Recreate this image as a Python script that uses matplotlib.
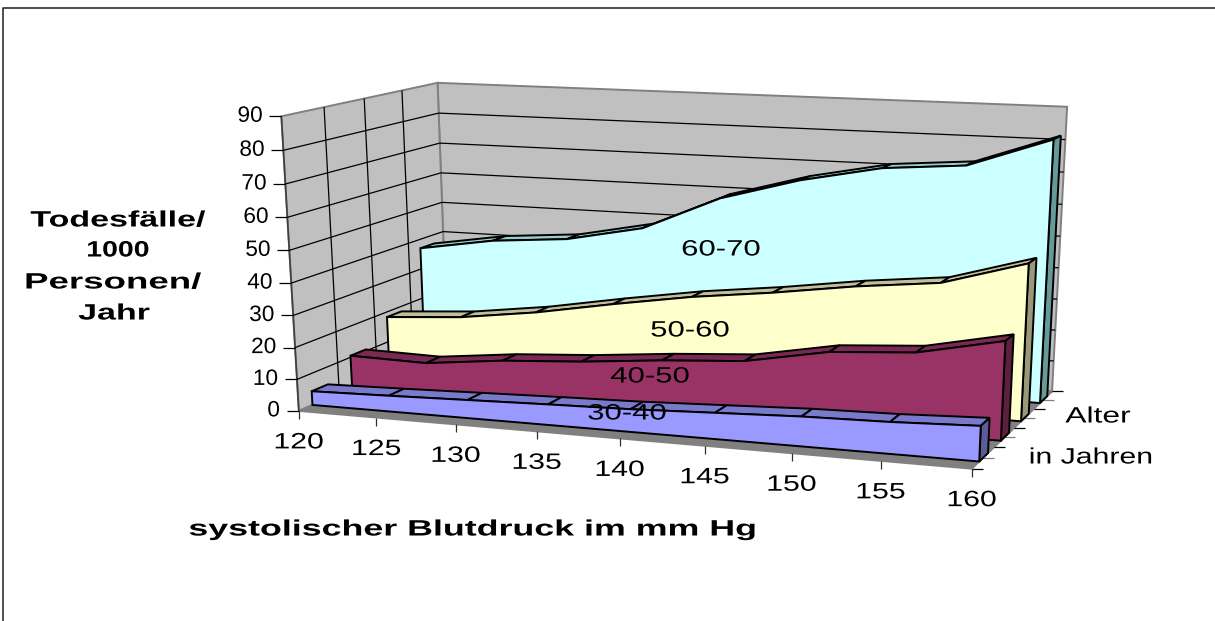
import numpy as np
import matplotlib
matplotlib.use('Agg')
import matplotlib.pyplot as plt
from matplotlib.patheffects import AbstractPathEffect
from matplotlib.transforms import Affine2D

pressure = [120, 125, 130, 135, 140, 145, 150, 155, 160]
z_ticks = [0, 10, 20, 30, 40, 50, 60, 70, 80, 90]

age_groups = ['30-40', '40-50', '50-60', '60-70']
deaths_30 = [4.4, 5, 5.7, 6.4, 7, 8, 9, 9.5, 10.5]
deaths_40 = [10.5, 10, 12.7, 14.3, 16.6, 18.3, 23, 24.7, 30]
deaths_50 = [18.3, 20, 23.3, 27.7, 31.7, 34.7, 38.3, 41, 48.5]
deaths_60 = [37, 41, 43, 48, 59, 66, 71, 73, 82]
series = [deaths_30, deaths_40, deaths_50, deaths_60]

face_colors = ['#9999FF', '#993366', '#FFFFCC', '#CCFFFF']
top_colors = ['#7A7ACC', '#7A2952', '#BFBF99', '#99CCCC']
side_colors = ['#5C5C99', '#5C1F3D', '#99997A', '#669999']
label_pos = [(627, 414), (650, 377), (690, 331), (721, 250)]

# where the corners of the chart box sit on the page (x, depth, z) -> pixel
corners = [
  ((0, 0, 0), (299, 409)), ((1, 0, 0), (972, 470)),
  ((0, 1, 0), (447, 348)), ((1, 1, 0), (1052, 390)),
  ((0, 0, 1), (281, 117)), ((0, 1, 1), (438, 82)),
  ((1, 1, 1), (1067, 107)),
]

def fitCamera(pairs):
  rows = []
  for (x, d, z), (u, v) in pairs:
    p = [x, d, z, 1]
    rows.append(p + [0, 0, 0, 0] + [-u * c for c in p])
    rows.append([0, 0, 0, 0] + p + [-v * c for c in p])
  return np.linalg.svd(np.array(rows, float))[2][-1].reshape(3, 4)

camera = fitCamera(corners)

def proj(x, d, z):
  """pressure, depth 0..1, deaths -> page pixel"""
  p = camera @ [(x - 120) / 40, d, z / 90, 1]
  return p[0] / p[2], p[1] / p[2]

class StretchX(AbstractPathEffect):
  """Excel stretched its text sideways, do the same around the text centre"""
  def __init__(self, sx):
    super().__init__()
    self.sx = sx

  def draw_path(self, renderer, gc, tpath, affine, rgbFace=None):
    box = affine.transform_path(tpath).get_extents()
    c = (box.x0 + box.x1) / 2
    stretched = affine + Affine2D().translate(-c, 0).scale(self.sx, 1).translate(c, 0)
    renderer.draw_path(gc, tpath, stretched, rgbFace)

plt.rcParams['font.family'] = ['Liberation Sans', 'DejaVu Sans']

fig = plt.figure(figsize=(12.15, 6.21), dpi=100)
ax = fig.add_axes([0, 0, 1, 1])
ax.set_xlim(0, 1215)
ax.set_ylim(621, 0)
ax.axis('off')

def label(x, y, s, bold=False, ha='center', sx=1.36):
  ax.text(x, y, s, fontsize=16, ha=ha, va='center', color='black',
          fontweight='bold' if bold else 'normal', path_effects=[StretchX(sx)], zorder=20)

def poly(pts, fc, lw=1.4, ec='black', z=2):
  ax.fill([p[0] for p in pts], [p[1] for p in pts], fc=fc, ec=ec, lw=lw, joinstyle='miter', zorder=z)

def seg(a, b, c='black', lw=0.9, z=1.5):
  ax.plot([a[0], b[0]], [a[1], b[1]], color=c, lw=lw, solid_capstyle='butt', zorder=z)

# frame, only its top and left edges are on the page
ax.plot([1215, 3, 3], [8, 8, 621], color='#303030', lw=1.2, zorder=0)

# walls and floor
x0, x1 = pressure[0], pressure[-1]
zmax = z_ticks[-1]
poly([proj(x0, 1, 0), proj(x1, 1, 0), proj(x1, 1, zmax), proj(x0, 1, zmax)], '#C0C0C0', ec='#808080', z=1)
poly([proj(x0, 0, 0), proj(x0, 1, 0), proj(x0, 1, zmax), proj(x0, 0, zmax)], '#C0C0C0', ec='#808080', z=1)
poly([proj(x0, 0, 0), proj(x1, 0, 0), proj(x1, 1, 0), proj(x0, 1, 0)], '#808080', ec='#808080', z=1)
seg(proj(x0, 0, 0), proj(x0, 0, zmax), c='#404040', lw=1.2)

for t in z_ticks:
  if 0 < t < zmax:
    seg(proj(x0, 0, t), proj(x0, 1, t))
    seg(proj(x0, 1, t), proj(x1, 1, t))
  a = proj(x0, 0, t)
  seg((a[0] - 12, a[1]), a)
  label(a[0] - 19, a[1], str(t), ha='right', sx=1.02)

for d in [0.25, 0.5, 0.75]:
  seg(proj(x0, d, 0), proj(x0, d, zmax))

# ticks under the front edge
for p in pressure:
  a = proj(p, 0, 0)
  seg(a, (a[0], a[1] + 8), c='#303030')
  label(a[0], a[1] + 32, str(p))

# ticks along the depth edge
for i in range(9):
  a = proj(x1, i / 8, 0)
  seg(a, (a[0] + 11, a[1]), c='black' if i % 2 == 0 else '#808080')

# ribbons, back one first
front, back = 0.33, 0.73
for i in range(len(series) - 1, -1, -1):
  vals = series[i]
  df, db = (i + front) / 4, (i + back) / 4
  z = 3 + len(series) - i
  for j in range(len(pressure) - 1):
    a, b = pressure[j], pressure[j + 1]
    poly([proj(a, df, vals[j]), proj(b, df, vals[j + 1]),
          proj(b, db, vals[j + 1]), proj(a, db, vals[j])], top_colors[i], z=z)
  poly([proj(x1, df, 0), proj(x1, db, 0), proj(x1, db, vals[-1]), proj(x1, df, vals[-1])],
       side_colors[i], z=z)
  pts = [proj(x0, df, 0)] + [proj(p, df, v) for p, v in zip(pressure, vals)] + [proj(x1, df, 0)]
  poly(pts, face_colors[i], z=z)
  label(label_pos[i][0], label_pos[i][1], age_groups[i], sx=1.4)

# axis titles
label(118, 221, 'Todesfälle/', bold=True, sx=1.53)
label(118, 251, '1000', bold=True, sx=1.28)
label(113, 283, 'Personen/', bold=True, sx=1.65)
label(114, 314, 'Jahr', bold=True, sx=1.53)
label(472, 530, 'systolischer Blutdruck im mm Hg', bold=True, sx=1.61)
label(1098, 417, 'Alter', sx=1.43)
label(1091, 458, 'in Jahren', sx=1.36)

fig.savefig('out.png', dpi=100)
